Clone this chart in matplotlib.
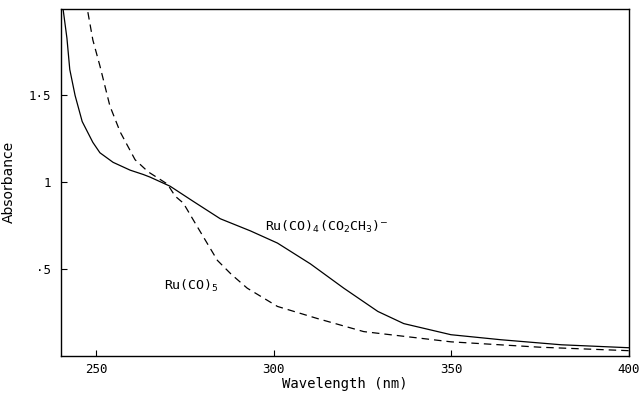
import matplotlib
matplotlib.use('Agg')
import matplotlib.pyplot as plt

# Ru(CO)4(CO2CH3)- (solid)
wl_ester = [240.6, 241.7, 242.5, 244.0, 246.0, 249.0, 251.0, 254.7, 259.5, 263.2,
            265.1, 270.8, 277.3, 284.9, 293.4, 301.0, 310.3, 319.7, 329.3, 336.6,
            349.9, 364.0, 381.0, 400.0]
abs_ester = [2.0, 1.83, 1.65, 1.50, 1.35, 1.23, 1.17, 1.115, 1.07, 1.045,
             1.03, 0.977, 0.89, 0.79, 0.72, 0.65, 0.53, 0.39, 0.256, 0.186,
             0.122, 0.093, 0.064, 0.047]

# Ru(CO)5 (dashed)
wl_penta = [247.6, 249.0, 251.0, 252.4, 253.8, 256.7, 260.9, 264.6, 270.0, 272.2,
            274.5, 278.4, 284.1, 288.0, 292.5, 301.0, 312.3, 325.3, 349.9, 375.0,
            400.0]
abs_penta = [1.98, 1.82, 1.67, 1.555, 1.44, 1.29, 1.13, 1.06, 0.99, 0.92,
             0.88, 0.745, 0.55, 0.47, 0.39, 0.285, 0.215, 0.14, 0.081, 0.05,
             0.03]

xticks = [250, 300, 350, 400]
xlabels = ['250', '300', '350', '400']
yticks = [0.5, 1.0, 1.5]
ylabels = ['·5', '1', '1·5']

font = 'DejaVu Sans Mono'

fig = plt.figure(figsize=(6.41, 3.95), dpi=100)
ax = fig.add_axes([0.095, 0.099, 0.886, 0.879])

ax.plot(wl_ester, abs_ester, color='black', lw=0.9)
ax.plot(wl_penta, abs_penta, color='black', lw=0.9, dashes=(6, 4))

ax.set_xlim(240, 400)
ax.set_ylim(0, 2.0)

ax.set_xticks(xticks)
ax.set_xticklabels(xlabels, family=font, fontsize=9)
ax.set_yticks(yticks)
ax.set_yticklabels(ylabels, family=font, fontsize=9)
ax.tick_params(axis='x', direction='in', length=4, width=0.8, pad=5)
ax.tick_params(axis='y', direction='in', length=4, width=0.8, pad=7)

for s in ax.spines.values():
    s.set_linewidth(1.0)

ax.set_xlabel('Wavelength (nm)', family=font, fontsize=10, labelpad=1)
ax.set_ylabel('Absorbance', fontsize=10, labelpad=9)

ax.text(297.5, 0.72, r'Ru(CO)$_4$(CO$_2$CH$_3$)$^{-}$', family=font, fontsize=9.5)
ax.text(269, 0.38, r'Ru(CO)$_5$', family=font, fontsize=9.5)

plt.savefig('out.png', dpi=100)
